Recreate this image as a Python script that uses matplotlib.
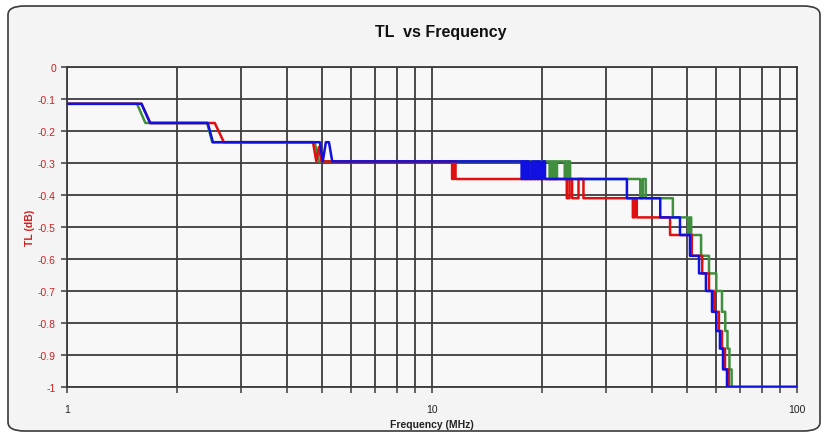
#TL vs Frequency - step response traces
# -*- coding: utf-8 -*-

import matplotlib
matplotlib.use('Agg')
import matplotlib.pyplot as plt
from matplotlib.patches import FancyBboxPatch
from matplotlib.ticker import FixedLocator, NullFormatter

#trace data (MHz, dB)
#the levels where a trace chatters are expanded by add_chatter below
green_freq = [1, 1.555, 1.64, 2.42, 2.50, 4.77, 4.90,
              37.2, 37.2, 37.8, 37.8, 38.5, 38.5,
              45.7, 45.7, 50.3, 50.3, 50.9, 50.9, 51.3, 51.3,
              54.6, 54.6, 57.4, 57.4, 60.1, 60.1, 62.3, 62.3, 63.6, 63.6,
              64.5, 64.5, 65.3, 65.3, 66.2, 66.2, 100]
green_tl = [-0.115, -0.115, -0.175, -0.175, -0.235, -0.235, -0.295,
            -0.35, -0.41, -0.41, -0.35, -0.35, -0.41,
            -0.41, -0.47, -0.47, -0.525, -0.525, -0.47, -0.47, -0.525,
            -0.525, -0.59, -0.59, -0.645, -0.645, -0.70, -0.70, -0.765, -0.765, -0.825,
            -0.825, -0.88, -0.88, -0.945, -0.945, -1.0, -1.0]
green_chatter = [21.0, 21.2, 21.4, 21.6, 21.8, 22.0, 23.1, 23.3, 23.5, 23.7, 23.9]

red_freq = [1, 1.60, 1.69, 2.54, 2.69, 4.72, 4.82, 4.90, 4.98,
            11.35, 11.35, 11.45, 11.45, 11.6, 11.6,
            23.4, 23.4, 23.8, 23.8, 24.2, 24.2, 25.2, 25.2, 26.0, 26.0,
            35.5, 35.5, 35.9, 35.9, 36.4, 36.4,
            44.9, 44.9, 51.5, 51.5, 55.0, 55.0, 57.4, 57.4, 59.3, 59.3,
            61.1, 61.1, 62.3, 62.3, 63.5, 63.5, 65.0, 65.0, 100]
red_tl = [-0.115, -0.115, -0.175, -0.175, -0.235, -0.235, -0.295, -0.25, -0.295,
          -0.295, -0.35, -0.35, -0.295, -0.295, -0.35,
          -0.35, -0.41, -0.41, -0.35, -0.35, -0.41, -0.41, -0.35, -0.35, -0.41,
          -0.41, -0.47, -0.47, -0.41, -0.41, -0.47,
          -0.47, -0.525, -0.525, -0.59, -0.59, -0.645, -0.645, -0.70, -0.70, -0.765,
          -0.765, -0.825, -0.825, -0.88, -0.88, -0.945, -0.945, -1.0, -1.0]

blue_freq = [1, 1.60, 1.69, 2.43, 2.51, 4.93, 5.02, 5.12, 5.22, 5.33,
             34.2, 34.2, 42.2, 42.2, 47.8, 47.8, 50.9, 50.9, 53.9, 53.9,
             56.3, 56.3, 58.5, 58.5, 60.1, 60.1, 61.5, 61.5, 62.7, 62.7, 64.3, 64.3, 100]
blue_tl = [-0.115, -0.115, -0.175, -0.175, -0.235, -0.235, -0.295, -0.235, -0.235, -0.295,
           -0.35, -0.41, -0.41, -0.47, -0.47, -0.525, -0.525, -0.59, -0.59, -0.645,
           -0.645, -0.70, -0.70, -0.765, -0.765, -0.825, -0.825, -0.88, -0.88, -0.945, -0.945, -1.0, -1.0]
blue_chatter = [17.6, 17.75, 17.9, 18.05, 18.2, 18.35, 18.5, 18.8, 19.0, 19.2,
                19.4, 19.6, 19.8, 20.1, 20.4]

y_ticks = [0, -0.1, -0.2, -0.3, -0.4, -0.5, -0.6, -0.7, -0.8, -0.9, -1]
y_labels = ['0', '-0.1', '-0.2', '-0.3', '-0.4', '-0.5', '-0.6', '-0.7', '-0.8', '-0.9', '-1']
x_ticks = [1, 10, 100]
x_labels = ['1', '10', '100']
x_minor = [2, 3, 4, 5, 6, 7, 8, 9, 20, 30, 40, 50, 60, 70, 80, 90]


def add_chatter(freq, tl, toggles, upper, lower):
    """
    insert a run of vertical toggles between two levels after the point at level upper
    """
    idx = len(freq) - freq[::-1].index(next(f for f, v in zip(freq[::-1], tl[::-1])
                                            if f < toggles[0] and v == upper))
    new_f, new_v = [], []
    level = upper
    for f in toggles:
        new_f += [f, f]
        nxt = lower if level == upper else upper
        new_v += [level, nxt]
        level = nxt
    return freq[:idx] + new_f + freq[idx:], tl[:idx] + new_v + tl[idx:]


green_freq, green_tl = add_chatter(green_freq, green_tl, green_chatter, -0.295, -0.35)
blue_freq, blue_tl = add_chatter(blue_freq, blue_tl, blue_chatter, -0.295, -0.35)

plt.rcParams['font.family'] = ['Liberation Sans', 'DejaVu Sans']

fig = plt.figure(figsize=(8.27, 4.39), dpi=100)
fig.patch.set_facecolor('white')
#rounded chart frame, kept behind the axes
frame = FancyBboxPatch((8/827, 7/439), 812/827, 425/439,
                       boxstyle='round,pad=0,rounding_size=0.02',
                       transform=fig.transFigure, facecolor='#f4f4f4',
                       edgecolor='#3a3a3a', linewidth=1.2, zorder=-5)
fig.patches.append(frame)

ax = fig.add_axes([67/827, 1 - 388/439, 730/827, 320/439])
ax.set_zorder(1)
ax.set_facecolor('#f8f8f8')
ax.set_xscale('log')
ax.set_xlim(1, 100)
ax.set_ylim(-1, 0)

#grid lines
grid_col = '#3c3c3c'
for v in x_ticks + x_minor:
    ax.axvline(v, color=grid_col, linewidth=1.3, zorder=1)
for v in y_ticks:
    ax.axhline(v, color=grid_col, linewidth=1.3, zorder=1)

ax.plot(green_freq, green_tl, color='#3f8f3f', linewidth=1.8, zorder=3)
ax.plot(red_freq, red_tl, color='#e01010', linewidth=1.8, zorder=4)
ax.plot(blue_freq, blue_tl, color='#1010e0', linewidth=1.8, zorder=5)

ax.xaxis.set_major_locator(FixedLocator(x_ticks))
ax.xaxis.set_minor_locator(FixedLocator(x_minor))
ax.xaxis.set_minor_formatter(NullFormatter())
ax.set_xticklabels(x_labels, fontsize=7.5, color='#222222')
ax.set_yticks(y_ticks)
ax.set_yticklabels(y_labels, fontsize=7.5, color='#d02020')
ax.tick_params(axis='both', which='both', direction='out', length=4,
               width=1.1, color=grid_col, pad=4)
ax.tick_params(axis='x', which='major', pad=8)

for s in ax.spines.values():
    s.set_color(grid_col)
    s.set_linewidth(1.3)

ax.set_xlabel('Frequency (MHz)', fontsize=7.5, fontweight='bold', color='#222222', labelpad=4)
ax.set_ylabel('TL (dB)', fontsize=7.5, fontweight='bold', color='#d02020', labelpad=2)
fig.text(441/827, 1 - 33/439, 'TL  vs Frequency', ha='center', va='center',
         fontsize=11.5, fontweight='bold', color='#111111')

plt.savefig('out.png', dpi=100, facecolor=fig.get_facecolor())
